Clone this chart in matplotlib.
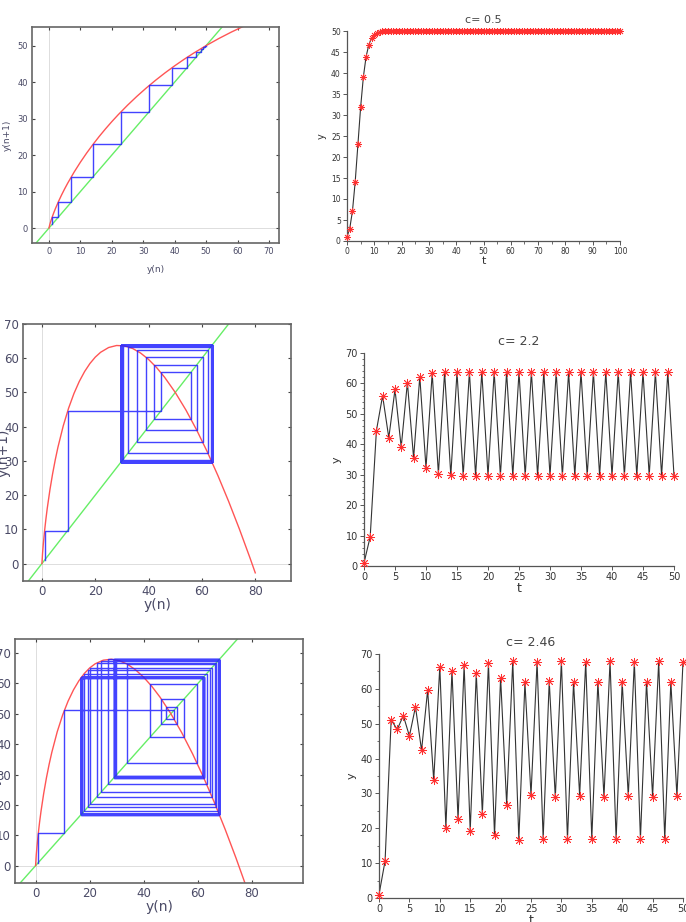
import matplotlib
matplotlib.use("Agg")
import matplotlib.pyplot as plt
from matplotlib.ticker import MultipleLocator

# ---------------- data ----------------
c_values = [0.5, 2.2, 2.46]
titles = ["c= 0.5", "c= 2.2", "c= 2.46"]

# time series (t = 0 .. N)
y_c05 = [1.0, 2.956, 7.136, 14.083, 23.006, 31.935, 39.094, 43.904, 46.758, 48.325,
         49.148, 49.570, 49.784, 49.892, 49.946, 49.973, 49.986, 49.993, 49.997, 49.998,
         49.999, 50.0, 50.0, 50.0, 50.0, 50.0, 50.0, 50.0, 50.0, 50.0,
         50.0, 50.0, 50.0, 50.0, 50.0, 50.0, 50.0, 50.0, 50.0, 50.0,
         50.0, 50.0, 50.0, 50.0, 50.0, 50.0, 50.0, 50.0, 50.0, 50.0,
         50.0, 50.0, 50.0, 50.0, 50.0, 50.0, 50.0, 50.0, 50.0, 50.0,
         50.0, 50.0, 50.0, 50.0, 50.0, 50.0, 50.0, 50.0, 50.0, 50.0,
         50.0, 50.0, 50.0, 50.0, 50.0, 50.0, 50.0, 50.0, 50.0, 50.0,
         50.0, 50.0, 50.0, 50.0, 50.0, 50.0, 50.0, 50.0, 50.0, 50.0,
         50.0, 50.0, 50.0, 50.0, 50.0, 50.0, 50.0, 50.0, 50.0, 50.0,
         50.0]

y_c22 = [1.0, 9.606, 44.47, 55.94, 42.13, 58.01, 39.05, 60.29, 35.48, 62.26,
         32.22, 63.37, 30.34, 63.69, 29.79, 63.73, 29.71, 63.74, 29.70, 63.74,
         29.70, 63.74, 29.70, 63.74, 29.70, 63.74, 29.70, 63.74, 29.70, 63.74,
         29.70, 63.74, 29.70, 63.74, 29.70, 63.74, 29.70, 63.74, 29.70, 63.74,
         29.70, 63.74, 29.70, 63.74, 29.70, 63.74, 29.70, 63.74, 29.70, 63.74,
         29.70]

y_c246 = [1.0, 10.62, 51.10, 48.36, 52.33, 46.47, 54.84, 42.37, 59.63, 33.80,
          66.36, 20.16, 65.21, 22.62, 66.76, 19.30, 64.50, 24.11, 67.37, 17.96,
          63.19, 26.80, 67.91, 16.76, 61.83, 29.54, 67.78, 17.05, 62.18, 28.85,
          67.88, 16.84, 61.92, 29.35, 67.81, 16.98, 62.09, 29.01, 67.86, 16.88,
          61.98, 29.25, 67.83, 16.95, 62.05, 29.09, 67.85, 16.91, 62.00, 29.19,
          67.84]

curve_x = [0, 0.25, 0.5, 1, 1.5, 2, 3, 4, 5, 6, 8, 10, 12, 14, 16, 18, 20, 22, 25,
           28, 31, 34, 37, 40, 43, 46, 50, 54, 58, 62, 66, 70, 74, 78, 80]
curve_c05 = [0, 0.912, 1.651, 2.956, 4.130, 5.219, 7.220, 9.051, 10.756, 12.361,
             15.330, 18.047, 20.563, 22.911, 25.116, 27.195, 29.163, 31.031, 33.664,
             36.117, 38.410, 40.556, 42.571, 44.463, 46.243, 47.918, 50.0, 51.922,
             53.696, 55.331, 56.838, 58.223, 59.495, 60.657, 61.2]
curve_c22 = [0, 3.164, 5.566, 9.606, 13.072, 16.163, 21.569, 26.226, 30.329, 33.987,
             40.254, 45.408, 49.676, 53.207, 56.108, 58.457, 60.316, 61.736, 63.123,
             63.717, 63.603, 62.847, 61.510, 59.636, 57.267, 54.438, 50.0, 44.857,
             39.062, 32.659, 25.688, 18.184, 10.176, 1.691, -2.72]
curve_c246 = [0, 3.508, 6.164, 10.624, 14.439, 17.837, 23.763, 28.853, 33.322, 37.295,
              44.065, 49.592, 54.128, 57.841, 60.848, 63.239, 65.082, 66.431, 67.628,
              67.939, 67.456, 66.256, 64.407, 61.957, 58.954, 55.435, 50.0, 43.777,
              36.824, 29.191, 20.924, 12.060, 2.633, -7.327, -12.50]

W, H = 686, 922
fig = plt.figure(figsize=(W / 100, H / 100), dpi=100)


def box(x0, y0, x1, y1):
    return [x0 / W, 1 - y1 / H, (x1 - x0) / W, (y1 - y0) / H]


def cobweb_path(seq):
    xs, ys = [seq[0]], [seq[0]]
    for a, b in zip(seq[:-1], seq[1:]):
        xs += [a, b]
        ys += [b, b]
    return xs, ys


cob_specs = [
    dict(rect=box(32, 27, 279, 243), xlim=(-5.4, 73.2), ylim=(-4.1, 55.1),
         xt=10, yt=10, curve=curve_c05, seq=y_c05, fs=6, lfs=6.5, ylpad=4, xlpad=6),
    dict(rect=box(23, 324, 291, 581), xlim=(-7.1, 93.4), ylim=(-5.1, 70),
         xt=20, yt=10, curve=curve_c22, seq=y_c22, fs=8.5, lfs=10, ylpad=-5, xlpad=0),
    dict(rect=box(15, 639, 303, 883), xlim=(-7.6, 98.8), ylim=(-5.7, 74.6),
         xt=20, yt=10, curve=curve_c246, seq=y_c246, fs=8.5, lfs=10, ylpad=-4, xlpad=0),
]

tickcol = "#4a4a66"
for sp in cob_specs:
    ax = fig.add_axes(sp["rect"])
    ax.axhline(0, color="#dddddd", lw=0.7, zorder=0)
    ax.axvline(0, color="#dddddd", lw=0.7, zorder=0)
    lo = min(sp["xlim"][0], sp["ylim"][0])
    hi = max(sp["xlim"][1], sp["ylim"][1])
    ax.plot([lo, hi], [lo, hi], color="#66ee66", lw=1.0, zorder=1)
    ax.plot(curve_x, sp["curve"], color="#ff5555", lw=1.0, zorder=2)
    cx, cy = cobweb_path(sp["seq"])
    ax.plot(cx, cy, color="#2222ff", lw=1.0, alpha=0.85, zorder=3)
    ax.set_xlim(*sp["xlim"])
    ax.set_ylim(*sp["ylim"])
    ax.xaxis.set_major_locator(MultipleLocator(sp["xt"]))
    ax.yaxis.set_major_locator(MultipleLocator(sp["yt"]))
    ax.tick_params(direction="in", length=2.5, width=0.8, top=True, right=True,
                   labelsize=sp["fs"], colors="#444444", labelcolor=tickcol, pad=3)
    for s in ax.spines.values():
        s.set_color("#666666")
        s.set_linewidth(1.2)
    ax.set_xlabel("y(n)", fontsize=sp["lfs"], color=tickcol, labelpad=sp["xlpad"])
    ax.set_ylabel("y(n+1)", fontsize=sp["lfs"], color=tickcol, labelpad=sp["ylpad"])

ts_specs = [
    dict(rect=box(347, 31, 620, 241), seq=y_c05, xlim=(0, 100), ylim=(0, 50), xt=10, xm=5,
         yt=5, ym=None, title=titles[0], fs=5.5, tfs=8, ms=5),
    dict(rect=box(364, 353, 674, 566), seq=y_c22, xlim=(0, 50), ylim=(0, 70), xt=5, xm=None,
         yt=10, ym=2, title=titles[1], fs=7, tfs=9, ms=6.5),
    dict(rect=box(379, 654, 683, 898), seq=y_c246, xlim=(0, 50), ylim=(0, 70), xt=5, xm=None,
         yt=10, ym=5, title=titles[2], fs=7, tfs=9, ms=6.5),
]

for sp in ts_specs:
    ax = fig.add_axes(sp["rect"])
    t = list(range(len(sp["seq"])))
    ax.plot(t, sp["seq"], color="#333333", lw=0.8, clip_on=False, zorder=2)
    ax.plot(t, sp["seq"], linestyle="none", marker=(8, 2, 0), ms=sp["ms"], mew=0.6,
            color="#ff3030", clip_on=False, zorder=3)
    ax.set_xlim(*sp["xlim"])
    ax.set_ylim(*sp["ylim"])
    ax.xaxis.set_major_locator(MultipleLocator(sp["xt"]))
    ax.yaxis.set_major_locator(MultipleLocator(sp["yt"]))
    if sp["xm"]:
        ax.xaxis.set_minor_locator(MultipleLocator(sp["xm"]))
    if sp["ym"]:
        ax.yaxis.set_minor_locator(MultipleLocator(sp["ym"]))
    for k in ("top", "right"):
        ax.spines[k].set_visible(False)
    for k in ("left", "bottom"):
        ax.spines[k].set_color("#555555")
        ax.spines[k].set_linewidth(0.9)
    ax.tick_params(which="major", direction="out", length=3, width=0.7, colors="#555555",
                   labelsize=sp["fs"], labelcolor="#333333", pad=1.5)
    ax.tick_params(which="minor", direction="out", length=1.8, width=0.6, colors="#555555")
    ax.set_xlabel("t", fontsize=sp["tfs"], color="#333333", labelpad=0)
    ax.set_ylabel("y", fontsize=sp["tfs"] - 1, color="#333333", labelpad=3)
    ax.set_title(sp["title"], fontsize=sp["tfs"], color="#444444", pad=6)

fig.savefig("out.png", dpi=100)
